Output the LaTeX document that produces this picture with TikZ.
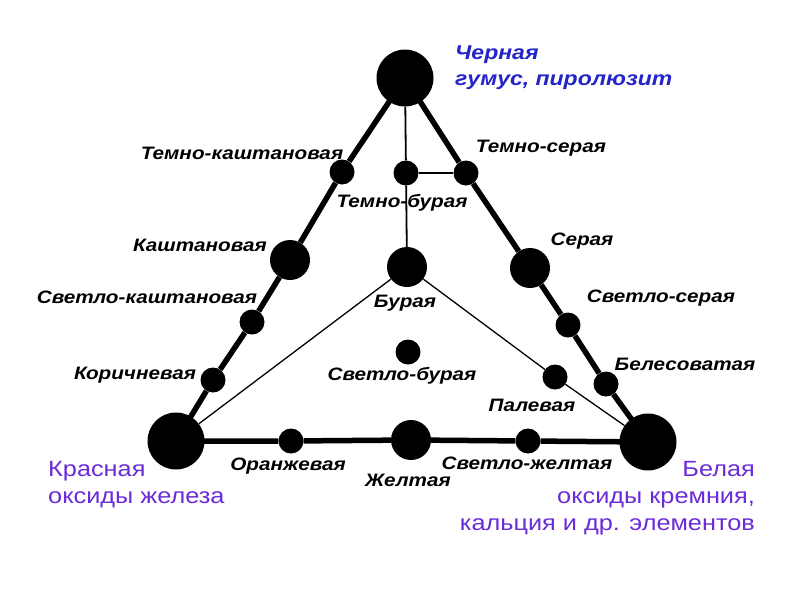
\documentclass[tikz,border=0pt]{standalone}
\usepackage{fontspec}
\setmainfont{Liberation Sans}
\newfontfamily\lblfont{Liberation Sans}[FakeStretch=1.15]
\definecolor{topblue}{RGB}{36,36,200}
\definecolor{cornerpurple}{RGB}{106,43,216}
\begin{document}
\begin{tikzpicture}[x=1pt,y=-1pt,
  dotS/.style={circle,fill=black,inner sep=0pt,minimum size=25pt},
  dotM/.style={circle,fill=black,inner sep=0pt,minimum size=40pt},
  dotL/.style={circle,fill=black,inner sep=0pt,minimum size=57pt},
  thickedge/.style={line width=5.5pt},
  thinedge/.style={line width=1.8pt},
  hairedge/.style={line width=1.3pt},
  lbl/.style={font=\lblfont\bfseries\itshape\fontsize{18}{20}\selectfont,inner sep=0pt},
  toplbl/.style={font=\lblfont\bfseries\itshape\fontsize{20}{26}\selectfont,text=topblue,inner sep=0pt,align=left},
  cornerlbl/.style={font=\lblfont\fontsize{22}{27}\selectfont,text=cornerpurple,inner sep=0pt},
]
\useasboundingbox (0,0) rectangle (800,600);
% corner nodes
\node[dotL] (top) at (405,78) {};
\node[dotL] (bl) at (176,441) {};
\node[dotL] (br) at (648,442) {};
% edge nodes
\node[dotS] (tk) at (342,172) {};
\node[dotM] (k) at (290,260) {};
\node[dotS] (sk) at (252,322) {};
\node[dotS] (kor) at (213,380) {};
\node[dotS] (ts) at (466,173) {};
\node[dotM] (s) at (530,268) {};
\node[dotS] (ss) at (568,325) {};
\node[dotS] (bel) at (606,384) {};
\node[dotS] (or) at (291,441) {};
\node[dotM] (zh) at (411,440) {};
\node[dotS] (szh) at (528,441) {};
% inner nodes
\node[dotS] (tb) at (406,173) {};
\node[dotM] (b) at (407,267) {};
\node[dotS] (pal) at (555,377) {};
\node[dotS] (sb) at (408,352) {};
% edges
\draw[thickedge] (top.center) -- (tk) -- (k) -- (sk) -- (kor) -- (bl.center);
\draw[thickedge] (top.center) -- (ts) -- (s) -- (ss) -- (bel) -- (br.center);
\draw[thickedge] (bl.center) -- (or) -- (zh) -- (szh) -- (br.center);
\draw[thinedge] (top) -- (tb) -- (b);
\draw[thinedge] (tb) -- (ts);
\draw[hairedge] (b) -- (bl);
\draw[hairedge] (b) -- (pal) -- (br);
% labels
\node[lbl] (ltk) at (242,153) {Темно-каштановая};
\node[lbl] (ltb) at (402,203) {Темно-бурая};
\node[lbl] (lts) at (541,148) {Темно-серая};
\node[lbl] (lk) at (200,245) {Каштановая};
\node[lbl] (ls) at (582,241) {Серая};
\node[lbl] (lsk) at (147,297) {Светло-каштановая};
\node[lbl] (lb) at (405,303) {Бурая};
\node[lbl] (lss) at (661,298) {Светло-серая};
\node[lbl] (lsb) at (402,376) {Светло-бурая};
\node[lbl] (lkor) at (135,375) {Коричневая};
\node[lbl] (lbel) at (685,364) {Белесоватая};
\node[lbl] (lpal) at (532,405) {Палевая};
\node[lbl] (lor) at (288,466) {Оранжевая};
\node[lbl] (lzh) at (408,480) {Желтая};
\node[lbl] (lszh) at (527,463) {Светло-желтая};
% corner captions
\node[toplbl,anchor=north west] (ctop) at (455,46) {Черная\\гумус, пиролюзит};
\node[cornerlbl,anchor=north west,align=left] (cbl) at (48,461) {Красная\\оксиды железа};
\node[cornerlbl,anchor=north east,align=right] (cbr) at (755,461) {Белая\\оксиды кремния,\\кальция и др. элементов};
\end{tikzpicture}
\end{document}
